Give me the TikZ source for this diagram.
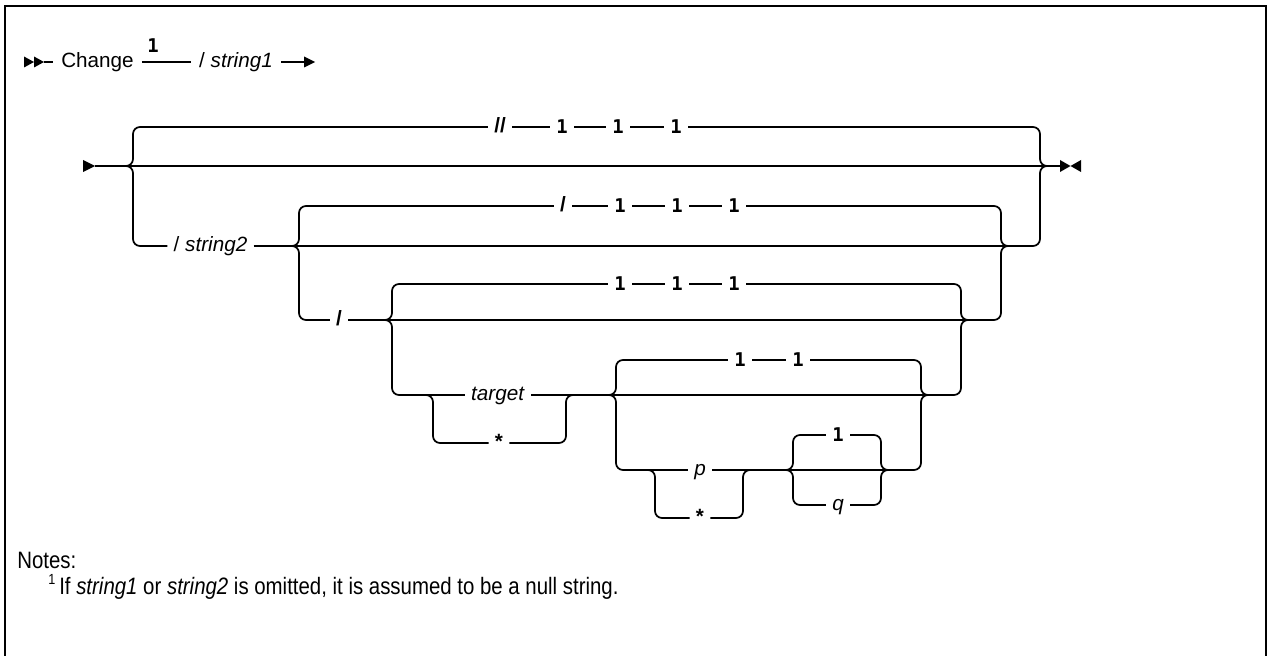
\documentclass[tikz,border=0pt]{standalone}
\usepackage{fontspec}
\setmainfont{Liberation Sans}
\newfontfamily\monofam{DejaVu Sans Mono}
\newfontfamily\notefam[FakeStretch=0.86]{Liberation Sans}
\newcommand\dgf{\fontsize{15.5}{18}\selectfont}
\newcommand\nmf{\monofam\bfseries\fontsize{14.2}{16}\selectfont}
\begin{document}
\begin{tikzpicture}[x=0.75pt,y=-0.75pt,
  ln/.style={line width=1.3pt, rounded corners=5.25pt},
  wd/.style={font=\dgf, inner xsep=4.5pt, inner ysep=0pt, text height=8.2pt, text depth=0.2pt},
  wdb/.style={wd, font=\dgf\bfseries},
  nm/.style={font=\nmf, inner xsep=4.6pt, inner ysep=0pt, text height=10.3pt, text depth=0pt},
  hd/.style={wd, inner xsep=6pt},
  nt/.style={font=\notefam\fontsize{17.8}{21}\selectfont, inner sep=0pt, anchor=base west}]
\useasboundingbox (0,0) rectangle (1273,656);
% frame
\draw[line width=1.5pt] (5,680) -- (5,6) -- (1266,6) -- (1266,680);

% ---------- header line ----------
\fill (24,56.5) -- (34,62) -- (24,67.5) -- cycle;
\fill (34,56.5) -- (44,62) -- (34,67.5) -- cycle;
\coordinate (h0) at (44,62);
\node[hd] (chg) at (97.5,62) {Change};
\node[hd] (s1) at (236,62) {/ \textit{string1}};
\node[nm, inner xsep=0pt] (h1) at (153,46) {1};
\coordinate (h2) at (304,62);
\draw[ln] (h0) -- (chg.west);
\draw[ln] (chg.east) -- (s1.west);
\draw[ln] (s1.east) -- (h2);
\fill (304,56.5) -- (315,62) -- (304,67.5) -- cycle;

% ---------- junction coordinates ----------
\coordinate (st) at (95,166);
\coordinate (en) at (1060,166);
% level 1
\coordinate (B1Lt) at (126,166); \coordinate (B1L) at (133,166);
\coordinate (B1R) at (1040,166); \coordinate (B1Rt) at (1047,166);
% level 2
\coordinate (B2Lt) at (292,246); \coordinate (B2L) at (299,246);
\coordinate (B2R) at (1001,246); \coordinate (B2Rt) at (1008,246);
% level 3
\coordinate (B3Lt) at (385,320); \coordinate (B3L) at (392,320);
\coordinate (B3R) at (961,320); \coordinate (B3Rt) at (968,320);
% level 4 (target / *)
\coordinate (B4a) at (426,395); \coordinate (B4L) at (433,395);
\coordinate (B4R) at (566,395); \coordinate (B4b) at (573,395);
% level 5
\coordinate (B5Lt) at (609,395); \coordinate (B5L) at (616,395);
\coordinate (B5R) at (921,395); \coordinate (B5Rt) at (928,395);
% level 6 (p / *)
\coordinate (B6a) at (648,470); \coordinate (B6L) at (655,470);
\coordinate (B6R) at (743,470); \coordinate (B6b) at (750,470);
% level 7 (1 / q)
\coordinate (B7Lt) at (786,470); \coordinate (B7L) at (793,470);
\coordinate (B7R) at (881,470); \coordinate (B7Rt) at (888,470);

% ---------- text nodes ----------
\node[wdb] (dsl) at (500,127) {//};
\node[nm] (a1) at (562,127) {1};
\node[nm] (a2) at (618,127) {1};
\node[nm] (a3) at (676,127) {1};
\node[wd] (s2) at (210.5,246) {/ \textit{string2}};
\node[wdb] (sl2) at (563,206) {/};
\node[nm] (b1) at (620,206) {1};
\node[nm] (b2) at (677,206) {1};
\node[nm] (b3) at (734,206) {1};
\node[wdb] (sl3) at (339,320) {/};
\node[nm] (c1) at (620,284) {1};
\node[nm] (c2) at (677,284) {1};
\node[nm] (c3) at (734,284) {1};
\node[wd] (tgt) at (498,395) {\textit{target}};
\node[wdb] (st1) at (499,443) {*};
\node[nm] (d1) at (740,360) {1};
\node[nm] (d2) at (798,360) {1};
\node[wd] (pp) at (700,470) {\textit{p}};
\node[wdb] (st2) at (700,518) {*};
\node[nm] (e1) at (838,435) {1};
\node[wd] (qq) at (838,505) {\textit{q}};

% ---------- start / end symbols and main line ----------
\fill (83,160) -- (95,166) -- (83,172) -- cycle;
\fill (1060,160) -- (1070.5,166) -- (1060,172) -- cycle;
\fill (1081,160) -- (1070.5,166) -- (1081,172) -- cycle;
\draw[ln] (st) -- (en);

% level 1
\draw[ln] (B1Lt) -- (B1L) |- (dsl.west);
\draw[ln] (dsl.east) -- (a1.west);
\draw[ln] (a1.east) -- (a2.west);
\draw[ln] (a2.east) -- (a3.west);
\draw[ln] (a3.east) -| (B1R) -- (B1Rt);
\draw[ln] (B1Lt) -- (B1L) |- (s2.west);
\draw[ln] (s2.east) -- (B2Lt);
\draw[ln] (B2Rt) -| (B1R) -- (B1Rt);

% level 2
\draw[ln] (B2Lt) -- (B2Rt);
\draw[ln] (B2Lt) -- (B2L) |- (sl2.west);
\draw[ln] (sl2.east) -- (b1.west);
\draw[ln] (b1.east) -- (b2.west);
\draw[ln] (b2.east) -- (b3.west);
\draw[ln] (b3.east) -| (B2R) -- (B2Rt);
\draw[ln] (B2Lt) -- (B2L) |- (sl3.west);
\draw[ln] (sl3.east) -- (B3Lt);
\draw[ln] (B3Rt) -| (B2R) -- (B2Rt);

% level 3
\draw[ln] (B3Lt) -- (B3Rt);
\draw[ln] (B3Lt) -- (B3L) |- (c1.west);
\draw[ln] (c1.east) -- (c2.west);
\draw[ln] (c2.east) -- (c3.west);
\draw[ln] (c3.east) -| (B3R) -- (B3Rt);
\draw[ln] (B3Lt) -- (B3L) |- (tgt.west);
\draw[ln] (tgt.east) -- (B5Lt);
\draw[ln] (B5Rt) -| (B3R) -- (B3Rt);

% level 4 (target / *)
\draw[ln] (B4a) -- (B4L) |- (st1.west);
\draw[ln] (st1.east) -| (B4R) -- (B4b);

% level 5
\draw[ln] (B5Lt) -- (B5Rt);
\draw[ln] (B5Lt) -- (B5L) |- (d1.west);
\draw[ln] (d1.east) -- (d2.west);
\draw[ln] (d2.east) -| (B5R) -- (B5Rt);
\draw[ln] (B5Lt) -- (B5L) |- (pp.west);
\draw[ln] (pp.east) -- (B7Lt);
\draw[ln] (B7Rt) -| (B5R) -- (B5Rt);

% level 6 (p / *)
\draw[ln] (B6a) -- (B6L) |- (st2.west);
\draw[ln] (st2.east) -| (B6R) -- (B6b);

% level 7 (1 / q)
\draw[ln] (B7Lt) -- (B7Rt);
\draw[ln] (B7Lt) -- (B7L) |- (e1.west);
\draw[ln] (e1.east) -| (B7R) -- (B7Rt);
\draw[ln] (B7Lt) -- (B7L) |- (qq.west);
\draw[ln] (qq.east) -| (B7R) -- (B7Rt);

% ---------- notes ----------
\node[nt] (notes) at (17,568) {Notes:};
\node[nt] (note1) at (48,594) {\raisebox{6.8pt}{\fontsize{11}{13}\selectfont 1}\hspace{3pt}If \textit{string1} or \textit{string2} is omitted, it is assumed to be a null string.};
\end{tikzpicture}
\end{document}
